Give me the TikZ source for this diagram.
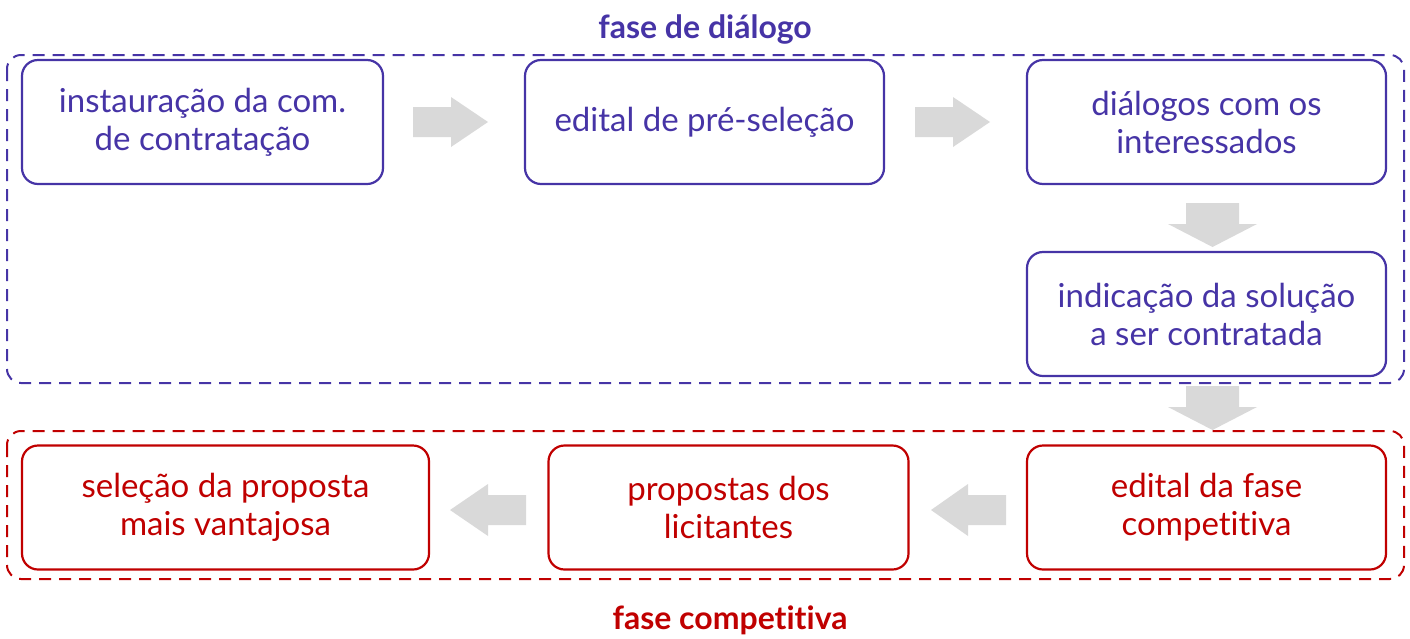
\documentclass[tikz,border=0pt]{standalone}
\usepackage{fontspec}
\setmainfont{Lato}[Ligatures=NoCommon]
\usetikzlibrary{calc}
\definecolor{purp}{HTML}{4634A6}
\definecolor{redc}{HTML}{C00000}
\definecolor{garr}{HTML}{D9D9D9}
\tikzset{
  box/.style={draw, line width=2.2pt, rounded corners=16pt, minimum height=124pt, align=center,
    font=\fontsize{33}{38}\selectfont, inner sep=0pt},
  pbox/.style={box, draw=purp, text=purp},
  rbox/.style={box, draw=redc, text=redc},
  frame/.style={dashed, line width=2pt, dash pattern=on 12pt off 8pt, rounded corners=14pt},
  title/.style={font=\fontsize{32}{38}\selectfont\bfseries, inner sep=0pt},
  garrow/.style={fill=garr, draw=none},
}
\begin{document}
\begin{tikzpicture}[x=1pt,y=-1pt]
\useasboundingbox (0,0) rectangle (1410,638);
% frames
\draw[frame, draw=purp] (7,55) rectangle (1404,383);
\draw[frame, draw=redc] (7,431) rectangle (1404,579);
\node[title, text=purp] (t1) at (705,29) {fase de diálogo};
\node[title, text=redc] (t2) at (730,620) {fase competitiva};
% purple boxes
\node[pbox, minimum width=361pt] (b1) at (202.5,122) {instauração da com.\\de contratação};
\node[pbox, minimum width=359pt] (b2) at (704.5,122) {edital de pré-seleção};
\node[pbox, minimum width=359pt] (b3) at (1206.5,122) {diálogos com os\\interessados};
\node[pbox, minimum width=359pt] (b4) at (1206.5,314) {indicação da solução\\a ser contratada};
% red boxes
\node[rbox, minimum width=407pt] (r1) at (225.5,507.5) {seleção da proposta\\mais vantajosa};
\node[rbox, minimum width=360pt] (r2) at (728.5,507.5) {propostas dos\\licitantes};
\node[rbox, minimum width=359pt] (r3) at (1206.5,507.5) {edital da fase\\competitiva};
% gray block arrows
\coordinate (a1) at (413,122);
\coordinate (a2) at (915,122);
\fill[garrow] (a1) ++(0,-15) -- ++(38,0) -- ++(0,-10) -- ++(37,25) -- ++(-37,25) -- ++(0,-10) -- ++(-38,0) -- cycle;
\fill[garrow] (a2) ++(0,-15) -- ++(38,0) -- ++(0,-10) -- ++(37,25) -- ++(-37,25) -- ++(0,-10) -- ++(-38,0) -- cycle;
\coordinate (d1) at (1212.5,203);
\coordinate (d2) at (1212.5,386);
\fill[garrow] (d1) ++(-26.5,0) -- ++(53,0) -- ++(0,21) -- ++(18,0) -- ++(-44.5,23) -- ++(-44.5,-23) -- ++(18,0) -- cycle;
\fill[garrow] (d2) ++(-26.5,0) -- ++(53,0) -- ++(0,21) -- ++(18,0) -- ++(-44.5,23) -- ++(-44.5,-23) -- ++(18,0) -- cycle;
\coordinate (l1) at (1006,510);
\coordinate (l2) at (526,510);
\fill[garrow] (l1) ++(0,-15) -- ++(-38,0) -- ++(0,-11) -- ++(-37,26) -- ++(37,26) -- ++(0,-11) -- ++(38,0) -- cycle;
\fill[garrow] (l2) ++(0,-15) -- ++(-38,0) -- ++(0,-11) -- ++(-38,26) -- ++(38,26) -- ++(0,-11) -- ++(38,0) -- cycle;
\end{tikzpicture}
\end{document}
